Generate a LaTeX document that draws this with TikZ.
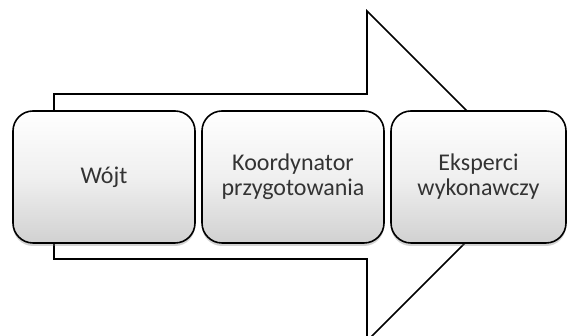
\documentclass[tikz,border=0pt]{standalone}
\usepackage{fontspec}
\setmainfont{Carlito}
\usetikzlibrary{shadows}
\tikzset{
  etap/.style={draw=black,line width=1.6pt,rounded corners=20pt,
    top color=white,bottom color=black!18,middle color=black!6,
    drop shadow={shadow xshift=0pt,shadow yshift=-3pt,opacity=0.35},
    minimum height=132pt,inner sep=0pt,align=center,
    font=\fontsize{24}{25}\selectfont,text=black!80},
}
\begin{document}
\begin{tikzpicture}[x=1pt,y=1pt]
  \useasboundingbox (0,0) rectangle (567,336);
  \clip (0,0) rectangle (567,336);
  % strzalka w tle
  \filldraw[fill=white,line width=1.6pt,line join=miter]
    (54,77) -- (54,242) -- (367,242) -- (367,325) -- (532,160)
    -- (367,-5) -- (367,77) -- cycle;
  % etapy
  \node[etap,minimum width=182pt] (wojt) at (104,159) {Wójt};
  \node[etap,minimum width=182pt] (koord) at (293,159) {Koordynator\\przygotowania};
  \node[etap,minimum width=175pt] (eksp) at (478.5,159) {Eksperci\\wykonawczy};
\end{tikzpicture}
\end{document}
